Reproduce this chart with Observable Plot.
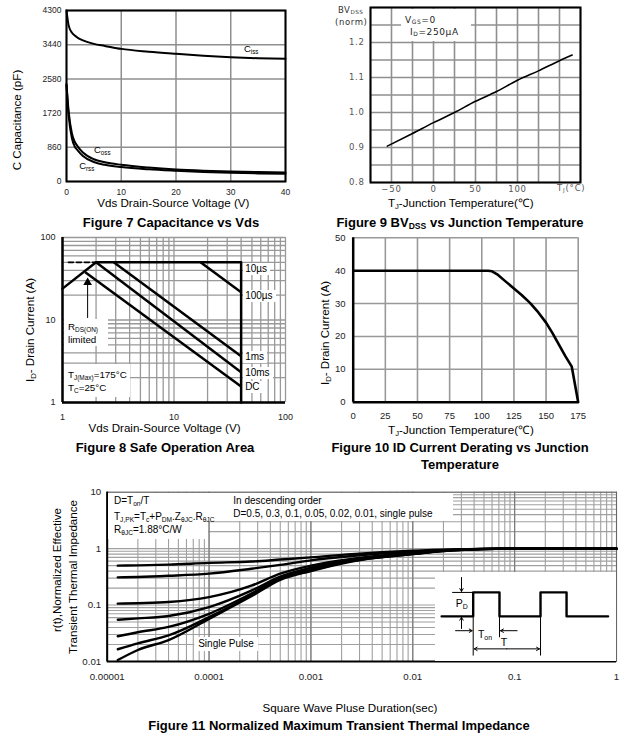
<!DOCTYPE html>
<html><head><meta charset="utf-8">
<script src="https://cdn.jsdelivr.net/npm/d3@7"></script>
<script src="https://cdn.jsdelivr.net/npm/@observablehq/plot@0.6"></script>
<style>
body{margin:0;background:#fff;}
#c{position:relative;width:633px;height:749px;overflow:hidden;background:#fff;}
.t{position:absolute;z-index:3;white-space:nowrap;line-height:1;font-family:"Liberation Sans",Arial,Helvetica,sans-serif;color:#000;}
.t sub{font-size:0.66em;vertical-align:-0.28em;line-height:0;}
.wb{position:absolute;z-index:2;background:#fff;}
</style></head><body><div id="c"></div>
<script>
// ---------- Figure 7: Capacitance vs Vds ----------
const capVds  = [0, 0.4, 1, 1.5, 2, 3, 5, 7, 10, 15, 20, 25, 30, 35, 40];
const capCiss = [4300, 3920, 3740, 3670, 3620, 3550, 3460, 3410, 3335, 3265, 3212, 3165, 3127, 3100, 3085];
const capCoss = [2450, 1750, 1200, 1000, 890, 730, 560, 485, 420, 350, 302, 272, 251, 237, 226];
const capCrss = [2420, 1650, 1080, 880, 790, 640, 490, 420, 362, 305, 269, 240, 219, 204, 194];
const capXTicks = [0, 10, 20, 30, 40];
const capYTicks = [0, 860, 1720, 2580, 3440, 4300];

// ---------- Figure 9: BVdss vs Tj ----------
const bvTemp = [-55, -25, 0, 25, 50, 75, 100, 125, 150, 165];
const bvNorm = [0.904, 0.94, 0.971, 1.0, 1.032, 1.06, 1.092, 1.119, 1.148, 1.164];
const bvGridX = [-75, -50, -25, 0, 25, 50, 75, 100, 125, 150, 175];
const bvGridY = [0.8, 0.85, 0.9, 0.95, 1.0, 1.05, 1.1, 1.15, 1.2, 1.25, 1.3];
const bvXTicks = [-50, 0, 50, 100];
const bvYTicks = [0.8, 0.9, 1.0, 1.1, 1.2];

// ---------- Figure 8: Safe operating area ----------
const soaLimitV = [2, 40, 40];
const soaLimitI = [50, 50, 1];
const soaRdsV = [1, 2];
const soaRdsI = [24, 50];
const soaDashV = [1.13, 2];
const soaDashI = [50, 50];
const soaPulse  = ["100µs", "1ms", "10ms", "DC"];
const soaStartV = [17.3, 2.88, 2, 1.6];
const soaStartI = [50, 50, 50, 38];
const soaEndV   = [40, 40, 40, 40];
const soaEndI   = [21.7, 3.64, 2.33, 1.56];
const soaLabels = ["10µs", "100µs", "1ms", "10ms", "DC"];
const soaLabelI = [41.5, 19.2, 3.55, 2.22, 1.53];
const soaArrowV = [1.68];
const soaArrowFromI = [10.7];
const soaArrowToI = [31];
const soaTicks = [1, 10, 100];

// ---------- Figure 10: current derating ----------
const derTemp = [0, 105, 108, 112, 118, 125, 131, 137.5, 144, 150, 155, 160, 165, 170, 175];
const derId   = [40, 40, 39.8, 38.9, 36.9, 34.6, 32.6, 30.2, 27.3, 24.2, 21, 17.5, 14, 10.8, 0];
const derXTicks = [0, 25, 50, 75, 100, 125, 150, 175];
const derYTicks = [0, 10, 20, 30, 40, 50];

// ---------- Figure 11: transient thermal impedance ----------
const zT    = [1.27e-5, 2e-5, 4e-5, 1e-4, 2.6e-4, 5e-4, 1e-3, 2.5e-3, 1e-2, 2.5e-2, 0.1, 1];
const zD050 = [0.50, 0.505, 0.52, 0.56, 0.59, 0.64, 0.70, 0.80, 0.92, 0.97, 1.0, 1.0];
const zD030 = [0.31, 0.315, 0.33, 0.36, 0.44, 0.515, 0.62, 0.74, 0.89, 0.96, 1.0, 1.0];
const zD010 = [0.106, 0.108, 0.113, 0.138, 0.22, 0.36, 0.50, 0.66, 0.85, 0.95, 1.0, 1.0];
const zD005 = [0.055, 0.058, 0.064, 0.092, 0.18, 0.32, 0.46, 0.63, 0.83, 0.94, 1.0, 1.0];
const zD002 = [0.028, 0.033, 0.041, 0.07, 0.16, 0.30, 0.43, 0.61, 0.81, 0.94, 1.0, 1.0];
const zD001 = [0.0165, 0.021, 0.029, 0.061, 0.149, 0.29, 0.41, 0.60, 0.80, 0.93, 1.0, 1.0];
const zSingle = [0.0106, 0.016, 0.024, 0.057, 0.143, 0.28, 0.40, 0.59, 0.80, 0.93, 1.0, 1.0];
const zXTicks = [1e-5, 1e-4, 1e-3, 1e-2, 1e-1, 1];
const zXLabels = ["0.00001", "0.0001", "0.001", "0.01", "0.1", "1"];
const zYTicks = [0.01, 0.1, 1, 10];
const zYLabels = ["0.01", "0.1", "1", "10"];
// inset pulse schematic (arbitrary time / power units)
const pulseT = [-1.2, 0, 0, 1, 1, 2.56, 2.56, 3.55, 3.55, 5.13];
const pulseP = [0, 0, 1, 1, 0, 0, 1, 1, 0, 0];

// ---------- helpers ----------
const C = document.getElementById("c");
const SANS = '"Liberation Sans", Arial, Helvetica, sans-serif';
function put(el, left, top, z) {
  el.style.position = "absolute"; el.style.left = left + "px"; el.style.top = top + "px";
  if (z) el.style.zIndex = z;
  C.appendChild(el); return el;
}
function txt(html, x, y, o = {}) {
  const d = document.createElement("div");
  d.className = "t"; d.innerHTML = html;
  const ax = o.anchor === "start" ? "0" : o.anchor === "end" ? "-100%" : "-50%";
  d.style.left = x + "px"; d.style.top = y + "px";
  d.style.fontSize = (o.size || 11.6) + "px";
  if (o.weight) d.style.fontWeight = o.weight;
  if (o.family) d.style.fontFamily = o.family;
  if (o.color) d.style.color = o.color;
  if (o.ls) d.style.letterSpacing = o.ls + "px";
  if (o.bg) { d.style.background = o.bg; d.style.padding = o.pad || "1px 2px"; }
  d.style.transform = `translate(${ax},-50%)` + (o.rotate ? ` rotate(${o.rotate}deg)` : "");
  C.appendChild(d); return d;
}
function wbox(x, y, w, h) {
  const d = document.createElement("div"); d.className = "wb";
  Object.assign(d.style, {left: x + "px", top: y + "px", width: w + "px", height: h + "px"});
  C.appendChild(d); return d;
}
function logTicks(k0, k1) {
  const a = [];
  for (let k = k0; k < k1; k++) for (let m = 1; m < 10; m++) a.push(+(m * 10 ** k).toPrecision(6));
  a.push(10 ** k1); return a;
}
const fmtFrom = (ticks, labels) => d => labels[ticks.indexOf(d)];
const grid = {stroke: "#8f8f8f", strokeOpacity: 1};

// ---------- Figure 7 ----------
const p7 = Plot.plot({
  width: 310, height: 200, marginLeft: 66, marginRight: 25, marginTop: 10, marginBottom: 19,
  style: {fontFamily: SANS, fontSize: "8.5px", color: "#222", background: "transparent"},
  x: {domain: [0, 40]}, y: {domain: [0, 4300]},
  marks: [
    Plot.gridX(capXTicks, {...grid, strokeWidth: 1.5}),
    Plot.gridY(capYTicks, {...grid, strokeWidth: 1.5}),
    Plot.frame({stroke: "#000", strokeWidth: 2}),
    Plot.line(capVds, {x: capVds, y: capCiss, stroke: "#000", strokeWidth: 2, curve: "monotone-x"}),
    Plot.line(capVds, {x: capVds, y: capCoss, stroke: "#000", strokeWidth: 2, curve: "monotone-x"}),
    Plot.line(capVds, {x: capVds, y: capCrss, stroke: "#000", strokeWidth: 2, curve: "monotone-x"}),
    Plot.axisX(capXTicks, {tickSize: 0, tickPadding: 7.6, tickFormat: d => String(d), label: null}),
    Plot.axisY(capYTicks, {tickSize: 0, tickPadding: 5, tickFormat: d => String(d), label: null})
  ]
});
put(p7, 0, 0);
{
  const sx = p7.scale("x"), sy = p7.scale("y");
  txt("C<sub>iss</sub>", sx.apply(32.5), sy.apply(3330), {anchor: "start", size: 9.5});
  txt("C<sub>oss</sub>", sx.apply(5.1), sy.apply(780), {anchor: "start", size: 9.5});
  txt("C<sub>rss</sub>", sx.apply(2.4), sy.apply(385), {anchor: "start", size: 9.5});
}
txt("C Capacitance (pF)", 16.7, 120, {rotate: -90});
txt("Vds Drain-Source Voltage (V)", 173.3, 203.3);
txt("Figure 7 Capacitance vs Vds", 171, 221.7, {size: 13, weight: "bold"});

// ---------- Figure 9 ----------
const DJ = '"DejaVu Sans", Verdana, sans-serif';
const p9 = Plot.plot({
  width: 323, height: 200, marginLeft: 60, marginRight: 53, marginTop: 7, marginBottom: 18,
  style: {fontFamily: DJ, fontSize: "8.5px", color: "#555", letterSpacing: "0.8px", background: "transparent"},
  x: {domain: [-75, 175]}, y: {domain: [0.8, 1.3]},
  marks: [
    Plot.gridX(bvGridX, {...grid, strokeWidth: 1.6}),
    Plot.gridY(bvGridY, {...grid, strokeWidth: 1.6}),
    Plot.frame({stroke: "#000", strokeWidth: 2}),
    Plot.line(bvTemp, {x: bvTemp, y: bvNorm, stroke: "#000", strokeWidth: 1.6, curve: "monotone-x"}),
    Plot.axisX(bvXTicks, {tickSize: 0, tickPadding: 3.2, tickFormat: d3.format("d"), label: null}),
    Plot.axisY(bvYTicks, {tickSize: 0, tickPadding: 5.7, tickFormat: d3.format(".1f"), label: null})
  ]
});
put(p9, 310, 0);
{
  const sx = p9.scale("x"), sy = p9.scale("y");
  const x0 = 310 + sx.apply(-38), x1 = 310 + sx.apply(45), y0 = sy.apply(1.3) + 1.5, y1 = sy.apply(1.2) - 1;
  wbox(x0, y0, x1 - x0, y1 - y0);
  txt("V<sub>GS</sub>=0", 405, 20, {anchor: "start", size: 9, family: DJ, ls: 0.6, color: "#222"});
  txt("I<sub>D</sub>=250µA", 410, 31.7, {anchor: "start", size: 9, family: DJ, ls: 0.6, color: "#222"});
  txt("T<sub>J</sub>(°C)", 310 + sx.apply(150) - 2, 188.3, {anchor: "start", size: 8.5, family: DJ, ls: 0.8, color: "#555"});
}
txt("BV<sub>DSS</sub>", 338, 10, {anchor: "start", size: 8.5, family: DJ, ls: 0.5, color: "#333"});
txt("(norm)", 335, 21.7, {anchor: "start", size: 8.5, family: DJ, ls: 0.6, color: "#333"});
txt("T<sub>J</sub>-Junction Temperature(℃)", 460.8, 203.3);
txt("Figure 9 BV<sub>DSS</sub> vs Junction Temperature", 460, 222, {size: 13, weight: "bold"});

// ---------- Figure 8 ----------
const soaGrid = logTicks(0, 2);
const p8 = Plot.plot({
  width: 310, height: 200, marginLeft: 62, marginRight: 25, marginTop: 12, marginBottom: 23,
  style: {fontFamily: SANS, fontSize: "9px", color: "#222", background: "transparent"},
  x: {type: "log", domain: [1, 100]}, y: {type: "log", domain: [1, 100]},
  marks: [
    Plot.gridX(soaGrid, {...grid, stroke: "#999", strokeWidth: 1.3}),
    Plot.gridY(soaGrid, {...grid, stroke: "#999", strokeWidth: 1.3}),
    Plot.ruleX([1], {stroke: "#000", strokeWidth: 2.5}),
    Plot.ruleY([1], {stroke: "#000", strokeWidth: 2.5}),
    Plot.line(soaLimitV, {x: soaLimitV, y: soaLimitI, stroke: "#000", strokeWidth: 2.5}),
    Plot.line(soaRdsV, {x: soaRdsV, y: soaRdsI, stroke: "#000", strokeWidth: 2.5}),
    Plot.line(soaDashV, {x: soaDashV, y: soaDashI, stroke: "#000", strokeWidth: 1.6, strokeDasharray: "5,3"}),
    Plot.link(soaPulse, {x1: soaStartV, y1: soaStartI, x2: soaEndV, y2: soaEndI, stroke: "#000", strokeWidth: 2.5}),
    Plot.arrow(soaArrowV, {x1: soaArrowV, x2: soaArrowV, y1: soaArrowFromI, y2: soaArrowToI, stroke: "#000", strokeWidth: 1, headLength: 0}),
    Plot.dot(soaArrowV, {x: soaArrowV, y: soaArrowToI, symbol: "triangle", r: 3.2, fill: "#000", stroke: null, dy: 3}),
    Plot.axisX(soaTicks, {tickSize: 0, tickPadding: 11.4, tickFormat: d => String(d), label: null}),
    Plot.axisY(soaTicks, {tickSize: 0, tickPadding: 7, tickFormat: d => String(d), label: null})
  ]
});
put(p8, 0, 225);
{
  const sx = p8.scale("x"), sy = p8.scale("y");
  soaLabels.forEach((l, i) => txt(l, sx.apply(40) + 2.5, 225 + sy.apply(soaLabelI[i]), {anchor: "start", size: 10, bg: "#fff", pad: "1px 3px 1px 2px"}));
}
wbox(64, 319, 44, 27);
txt("R<sub>DS(ON)</sub>", 68, 326.7, {anchor: "start", size: 9.8});
txt("limited", 68, 340, {anchor: "start", size: 9.8});
wbox(64, 364, 66, 33);
txt("T<sub>J(Max)</sub>=175°C", 68, 375, {anchor: "start", size: 9.8});
txt("T<sub>C</sub>=25°C", 68, 388.3, {anchor: "start", size: 9.8});
txt("I<sub>D</sub>- Drain Current (A)", 30, 330, {rotate: -90});
txt("Vds Drain-Source Voltage (V)", 164.5, 428);
txt("Figure 8 Safe Operation Area", 165, 447, {size: 13, weight: "bold"});

// ---------- Figure 10 ----------
const p10 = Plot.plot({
  width: 323, height: 200, marginLeft: 42.7, marginRight: 55.3, marginTop: 12.3, marginBottom: 23.3,
  style: {fontFamily: SANS, fontSize: "9.5px", color: "#222", background: "transparent"},
  x: {domain: [0, 175]}, y: {domain: [0, 50]},
  marks: [
    Plot.gridX(derXTicks, {...grid, stroke: "#999", strokeWidth: 1.6}),
    Plot.gridY(derYTicks, {...grid, stroke: "#999", strokeWidth: 1.6}),
    Plot.ruleX([0], {stroke: "#000", strokeWidth: 2.5}),
    Plot.ruleY([0], {stroke: "#000", strokeWidth: 2.5}),
    Plot.line(derTemp, {x: derTemp, y: derId, stroke: "#000", strokeWidth: 2.6, curve: "linear"}),
    Plot.axisX(derXTicks, {tickSize: 0, tickPadding: 10.4, tickFormat: d => String(d), label: null}),
    Plot.axisY(derYTicks, {tickSize: 0, tickPadding: 7.7, tickFormat: d => String(d), label: null})
  ]
});
put(p10, 310, 225);
txt("I<sub>D</sub>- Drain Current (A)", 325, 333, {rotate: -90});
txt("T<sub>J</sub>-Junction Temperature(℃)", 461, 430);
txt("Figure 10 ID Current Derating vs Junction", 460, 447, {size: 13, weight: "bold"});
txt("Temperature", 460, 464.3, {size: 13, weight: "bold"});

// ---------- Figure 11 ----------
const zGridX = logTicks(-5, 0);
const zGridY = logTicks(-2, 1);
const zSeries = [zD050, zD030, zD010, zD005, zD002, zD001, zSingle];
const p11 = Plot.plot({
  width: 633, height: 215, marginLeft: 106.7, marginRight: 17, marginTop: 11.7, marginBottom: 34,
  style: {fontFamily: SANS, fontSize: "9.7px", color: "#222", background: "transparent"},
  x: {type: "log", domain: [1e-5, 1]}, y: {type: "log", domain: [0.01, 10]},
  marks: [
    Plot.gridX(zGridX, {...grid, stroke: "#a0a0a0", strokeWidth: 1.1}),
    Plot.gridY(zGridY, {...grid, stroke: "#a0a0a0", strokeWidth: 1.1}),
    Plot.gridX(zXTicks, {...grid, stroke: "#777", strokeWidth: 1.1}),
    Plot.frame({stroke: "#666", strokeWidth: 1}),
    Plot.ruleX([1e-5], {stroke: "#000", strokeWidth: 2}),
    Plot.ruleY([0.01], {stroke: "#000", strokeWidth: 2}),
    ...zSeries.map(s => Plot.line(zT, {x: zT, y: s, stroke: "#000", strokeWidth: 2.4, curve: "monotone-x"})),
    Plot.axisX(zXTicks, {tickSize: 0, tickPadding: 12, tickFormat: fmtFrom(zXTicks, zXLabels), label: null}),
    Plot.axisY(zYTicks, {tickSize: 0, tickPadding: 6, tickFormat: fmtFrom(zYTicks, zYLabels), label: null})
  ]
});
put(p11, 0, 480);
wbox(108, 493, 100, 46);
wbox(208, 493, 245, 28);
txt("D=T<sub>on</sub>/T", 114, 500.7, {anchor: "start", size: 10});
txt("T<sub>J,PK</sub>=T<sub>c</sub>+P<sub>DM</sub>.Z<sub>θJC</sub>.R<sub>θJC</sub>", 114, 516.7, {anchor: "start", size: 10});
txt("R<sub>θJC</sub>=1.88°C/W", 114, 530, {anchor: "start", size: 10});
txt("In descending order", 233.3, 500.7, {anchor: "start", size: 10});
txt("D=0.5, 0.3, 0.1, 0.05, 0.02, 0.01, single pulse", 233.3, 514.3, {anchor: "start", size: 10});
txt("Single Pulse", 226, 644.3, {size: 10, bg: "#fff", pad: "2px 4px"});

// inset pulse diagram
const pin = Plot.plot({
  width: 181, height: 89, margin: 0,
  style: {background: "#fff", fontFamily: SANS},
  x: {domain: [-1.433, 5.449], axis: null}, y: {domain: [-1.888, 1.833], axis: null},
  marks: [
    Plot.line(pulseT, {x: pulseT, y: pulseP, stroke: "#000", strokeWidth: 2.4}),
    Plot.link([0], {x1: -0.8, x2: 0, y1: 1, y2: 1, stroke: "#000", strokeWidth: 1}),
    Plot.link([0, 1, 2.56], {x1: d => d, x2: d => d, y1: 0, y2: [-1.64, -0.875, -1.64], stroke: "#000", strokeWidth: 1}),
    Plot.arrow([0, 1], {x1: -0.445, x2: -0.445, y1: [1.625, -0.51], y2: [1.04, -0.04], stroke: "#000", strokeWidth: 1, headLength: 5}),
    Plot.arrow([0, 1], {x1: [-0.67, 1.67], x2: [-0.04, 1.04], y1: -0.6, y2: -0.6, stroke: "#000", strokeWidth: 1, headLength: 5}),
    Plot.arrow([0, 1], {x1: [1.28, 1.28], x2: [0.04, 2.52], y1: -1.36, y2: -1.36, stroke: "#000", strokeWidth: 1, headLength: 5})
  ]
});
put(pin, 435, 571.7, 2);
txt("P<sub>D</sub>", 461.7, 603, {size: 10.5});
txt("T<sub>on</sub>", 485, 634.3, {size: 10.5});
txt("T", 504, 641.7, {size: 10.5});

txt("r(t),Normalized Effective", 57.3, 570, {rotate: -90});
txt("Transient Thermal Impedance", 73.3, 576.7, {rotate: -90});
txt("Square Wave Pluse Duration(sec)", 350, 708.3);
txt("Figure 11 Normalized Maximum Transient Thermal Impedance", 339, 725, {size: 13, weight: "bold"});
</script></body></html>
